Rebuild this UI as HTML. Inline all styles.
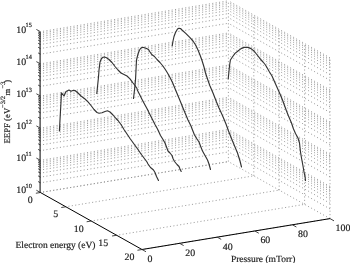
<!DOCTYPE html>
<html><head><meta charset="utf-8"><style>
html,body{margin:0;padding:0;background:#fff;}
svg{display:block;filter:grayscale(1);}
.g{stroke:#959595;stroke-width:0.9;stroke-dasharray:1.1 2.33;}
</style></head><body>
<svg width="350" height="263" viewBox="0 0 350 263">
<rect width="350" height="263" fill="#fff"/>
<g fill="none">
<line class="g" x1="40.4" y1="192.5" x2="228.4" y2="161.6" stroke-dashoffset="0.8"/>
<line class="g" x1="330" y1="218.6" x2="228.4" y2="161.6" stroke-dashoffset="0"/>
<line class="g" x1="40.4" y1="182.82" x2="228.4" y2="151.92" stroke-dashoffset="0.8"/>
<line class="g" x1="330" y1="208.92" x2="228.4" y2="151.92" stroke-dashoffset="0"/>
<line class="g" x1="40.4" y1="177.16" x2="228.4" y2="146.26" stroke-dashoffset="0.8"/>
<line class="g" x1="330" y1="203.26" x2="228.4" y2="146.26" stroke-dashoffset="0"/>
<line class="g" x1="40.4" y1="173.14" x2="228.4" y2="142.24" stroke-dashoffset="0.8"/>
<line class="g" x1="330" y1="199.24" x2="228.4" y2="142.24" stroke-dashoffset="0"/>
<line class="g" x1="40.4" y1="170.02" x2="228.4" y2="139.12" stroke-dashoffset="0.8"/>
<line class="g" x1="330" y1="196.12" x2="228.4" y2="139.12" stroke-dashoffset="0"/>
<line class="g" x1="40.4" y1="167.47" x2="228.4" y2="136.57" stroke-dashoffset="0.8"/>
<line class="g" x1="330" y1="193.57" x2="228.4" y2="136.57" stroke-dashoffset="0"/>
<line class="g" x1="40.4" y1="165.32" x2="228.4" y2="134.42" stroke-dashoffset="0.8"/>
<line class="g" x1="330" y1="191.42" x2="228.4" y2="134.42" stroke-dashoffset="0"/>
<line class="g" x1="40.4" y1="163.46" x2="228.4" y2="132.56" stroke-dashoffset="0.8"/>
<line class="g" x1="330" y1="189.56" x2="228.4" y2="132.56" stroke-dashoffset="0"/>
<line class="g" x1="40.4" y1="161.81" x2="228.4" y2="130.91" stroke-dashoffset="0.8"/>
<line class="g" x1="330" y1="187.91" x2="228.4" y2="130.91" stroke-dashoffset="0"/>
<line class="g" x1="40.4" y1="160.34" x2="228.4" y2="129.44" stroke-dashoffset="0.8"/>
<line class="g" x1="330" y1="186.44" x2="228.4" y2="129.44" stroke-dashoffset="0"/>
<line class="g" x1="40.4" y1="150.66" x2="228.4" y2="119.76" stroke-dashoffset="0.8"/>
<line class="g" x1="330" y1="176.76" x2="228.4" y2="119.76" stroke-dashoffset="0"/>
<line class="g" x1="40.4" y1="145" x2="228.4" y2="114.1" stroke-dashoffset="0.8"/>
<line class="g" x1="330" y1="171.1" x2="228.4" y2="114.1" stroke-dashoffset="0"/>
<line class="g" x1="40.4" y1="140.98" x2="228.4" y2="110.08" stroke-dashoffset="0.8"/>
<line class="g" x1="330" y1="167.08" x2="228.4" y2="110.08" stroke-dashoffset="0"/>
<line class="g" x1="40.4" y1="137.86" x2="228.4" y2="106.96" stroke-dashoffset="0.8"/>
<line class="g" x1="330" y1="163.96" x2="228.4" y2="106.96" stroke-dashoffset="0"/>
<line class="g" x1="40.4" y1="135.31" x2="228.4" y2="104.41" stroke-dashoffset="0.8"/>
<line class="g" x1="330" y1="161.41" x2="228.4" y2="104.41" stroke-dashoffset="0"/>
<line class="g" x1="40.4" y1="133.16" x2="228.4" y2="102.26" stroke-dashoffset="0.8"/>
<line class="g" x1="330" y1="159.26" x2="228.4" y2="102.26" stroke-dashoffset="0"/>
<line class="g" x1="40.4" y1="131.3" x2="228.4" y2="100.4" stroke-dashoffset="0.8"/>
<line class="g" x1="330" y1="157.4" x2="228.4" y2="100.4" stroke-dashoffset="0"/>
<line class="g" x1="40.4" y1="129.65" x2="228.4" y2="98.75" stroke-dashoffset="0.8"/>
<line class="g" x1="330" y1="155.75" x2="228.4" y2="98.75" stroke-dashoffset="0"/>
<line class="g" x1="40.4" y1="128.18" x2="228.4" y2="97.28" stroke-dashoffset="0.8"/>
<line class="g" x1="330" y1="154.28" x2="228.4" y2="97.28" stroke-dashoffset="0"/>
<line class="g" x1="40.4" y1="118.5" x2="228.4" y2="87.6" stroke-dashoffset="0.8"/>
<line class="g" x1="330" y1="144.6" x2="228.4" y2="87.6" stroke-dashoffset="0"/>
<line class="g" x1="40.4" y1="112.84" x2="228.4" y2="81.94" stroke-dashoffset="0.8"/>
<line class="g" x1="330" y1="138.94" x2="228.4" y2="81.94" stroke-dashoffset="0"/>
<line class="g" x1="40.4" y1="108.82" x2="228.4" y2="77.92" stroke-dashoffset="0.8"/>
<line class="g" x1="330" y1="134.92" x2="228.4" y2="77.92" stroke-dashoffset="0"/>
<line class="g" x1="40.4" y1="105.7" x2="228.4" y2="74.8" stroke-dashoffset="0.8"/>
<line class="g" x1="330" y1="131.8" x2="228.4" y2="74.8" stroke-dashoffset="0"/>
<line class="g" x1="40.4" y1="103.15" x2="228.4" y2="72.25" stroke-dashoffset="0.8"/>
<line class="g" x1="330" y1="129.25" x2="228.4" y2="72.25" stroke-dashoffset="0"/>
<line class="g" x1="40.4" y1="101" x2="228.4" y2="70.1" stroke-dashoffset="0.8"/>
<line class="g" x1="330" y1="127.1" x2="228.4" y2="70.1" stroke-dashoffset="0"/>
<line class="g" x1="40.4" y1="99.14" x2="228.4" y2="68.24" stroke-dashoffset="0.8"/>
<line class="g" x1="330" y1="125.24" x2="228.4" y2="68.24" stroke-dashoffset="0"/>
<line class="g" x1="40.4" y1="97.49" x2="228.4" y2="66.59" stroke-dashoffset="0.8"/>
<line class="g" x1="330" y1="123.59" x2="228.4" y2="66.59" stroke-dashoffset="0"/>
<line class="g" x1="40.4" y1="96.02" x2="228.4" y2="65.12" stroke-dashoffset="0.8"/>
<line class="g" x1="330" y1="122.12" x2="228.4" y2="65.12" stroke-dashoffset="0"/>
<line class="g" x1="40.4" y1="86.34" x2="228.4" y2="55.44" stroke-dashoffset="0.8"/>
<line class="g" x1="330" y1="112.44" x2="228.4" y2="55.44" stroke-dashoffset="0"/>
<line class="g" x1="40.4" y1="80.68" x2="228.4" y2="49.78" stroke-dashoffset="0.8"/>
<line class="g" x1="330" y1="106.78" x2="228.4" y2="49.78" stroke-dashoffset="0"/>
<line class="g" x1="40.4" y1="76.66" x2="228.4" y2="45.76" stroke-dashoffset="0.8"/>
<line class="g" x1="330" y1="102.76" x2="228.4" y2="45.76" stroke-dashoffset="0"/>
<line class="g" x1="40.4" y1="73.54" x2="228.4" y2="42.64" stroke-dashoffset="0.8"/>
<line class="g" x1="330" y1="99.64" x2="228.4" y2="42.64" stroke-dashoffset="0"/>
<line class="g" x1="40.4" y1="70.99" x2="228.4" y2="40.09" stroke-dashoffset="0.8"/>
<line class="g" x1="330" y1="97.09" x2="228.4" y2="40.09" stroke-dashoffset="0"/>
<line class="g" x1="40.4" y1="68.84" x2="228.4" y2="37.94" stroke-dashoffset="0.8"/>
<line class="g" x1="330" y1="94.94" x2="228.4" y2="37.94" stroke-dashoffset="0"/>
<line class="g" x1="40.4" y1="66.98" x2="228.4" y2="36.08" stroke-dashoffset="0.8"/>
<line class="g" x1="330" y1="93.08" x2="228.4" y2="36.08" stroke-dashoffset="0"/>
<line class="g" x1="40.4" y1="65.33" x2="228.4" y2="34.43" stroke-dashoffset="0.8"/>
<line class="g" x1="330" y1="91.43" x2="228.4" y2="34.43" stroke-dashoffset="0"/>
<line class="g" x1="40.4" y1="63.86" x2="228.4" y2="32.96" stroke-dashoffset="0.8"/>
<line class="g" x1="330" y1="89.96" x2="228.4" y2="32.96" stroke-dashoffset="0"/>
<line class="g" x1="40.4" y1="54.18" x2="228.4" y2="23.28" stroke-dashoffset="0.8"/>
<line class="g" x1="330" y1="80.28" x2="228.4" y2="23.28" stroke-dashoffset="0"/>
<line class="g" x1="40.4" y1="48.52" x2="228.4" y2="17.62" stroke-dashoffset="0.8"/>
<line class="g" x1="330" y1="74.62" x2="228.4" y2="17.62" stroke-dashoffset="0"/>
<line class="g" x1="40.4" y1="44.5" x2="228.4" y2="13.6" stroke-dashoffset="0.8"/>
<line class="g" x1="330" y1="70.6" x2="228.4" y2="13.6" stroke-dashoffset="0"/>
<line class="g" x1="40.4" y1="41.38" x2="228.4" y2="10.48" stroke-dashoffset="0.8"/>
<line class="g" x1="330" y1="67.48" x2="228.4" y2="10.48" stroke-dashoffset="0"/>
<line class="g" x1="40.4" y1="38.83" x2="228.4" y2="7.93" stroke-dashoffset="0.8"/>
<line class="g" x1="330" y1="64.93" x2="228.4" y2="7.93" stroke-dashoffset="0"/>
<line class="g" x1="40.4" y1="36.68" x2="228.4" y2="5.78" stroke-dashoffset="0.8"/>
<line class="g" x1="330" y1="62.78" x2="228.4" y2="5.78" stroke-dashoffset="0"/>
<line class="g" x1="40.4" y1="34.82" x2="228.4" y2="3.92" stroke-dashoffset="0.8"/>
<line class="g" x1="330" y1="60.92" x2="228.4" y2="3.92" stroke-dashoffset="0"/>
<line class="g" x1="40.4" y1="33.17" x2="228.4" y2="2.27" stroke-dashoffset="0.8"/>
<line class="g" x1="330" y1="59.27" x2="228.4" y2="2.27" stroke-dashoffset="0"/>
<line class="g" x1="40.4" y1="31.7" x2="228.4" y2="0.8" stroke-dashoffset="0.8"/>
<line class="g" x1="330" y1="57.8" x2="228.4" y2="0.8" stroke-dashoffset="0"/>
<line class="g" x1="40.4" y1="192.5" x2="228.4" y2="161.6" stroke-dashoffset="0.8"/>
<line class="g" x1="228.4" y1="161.6" x2="228.4" y2="0.8"/>
<line class="g" x1="65.8" y1="206.75" x2="253.8" y2="175.85" stroke-dashoffset="0.8"/>
<line class="g" x1="253.8" y1="175.85" x2="253.8" y2="15.05"/>
<line class="g" x1="91.2" y1="221" x2="279.2" y2="190.1" stroke-dashoffset="0.8"/>
<line class="g" x1="279.2" y1="190.1" x2="279.2" y2="29.3"/>
<line class="g" x1="116.6" y1="235.25" x2="304.6" y2="204.35" stroke-dashoffset="0.8"/>
<line class="g" x1="304.6" y1="204.35" x2="304.6" y2="43.55"/>
<line class="g" x1="142" y1="249.5" x2="330" y2="218.6" stroke-dashoffset="0.8"/>
<line class="g" x1="330" y1="218.6" x2="330" y2="57.8"/>
</g>
<g stroke="#000" stroke-width="1" fill="none" stroke-linecap="butt">
<line x1="40.1" y1="193" x2="40.1" y2="31.7" stroke="#2a2a2a" stroke-width="1.2"/>
<line x1="40.4" y1="192.5" x2="142" y2="249.5"/>
<line x1="142" y1="249.5" x2="330" y2="218.6"/>
</g>
<g stroke="#222" stroke-width="0.85" fill="none" stroke-linecap="butt">
<line x1="40.4" y1="192.5" x2="36.39" y2="190.25"/>
<line x1="40.4" y1="182.82" x2="38.13" y2="181.55"/>
<line x1="40.4" y1="177.16" x2="38.13" y2="175.88"/>
<line x1="40.4" y1="173.14" x2="38.13" y2="171.87"/>
<line x1="40.4" y1="170.02" x2="38.13" y2="168.75"/>
<line x1="40.4" y1="167.47" x2="38.13" y2="166.2"/>
<line x1="40.4" y1="165.32" x2="38.13" y2="164.05"/>
<line x1="40.4" y1="163.46" x2="38.13" y2="162.18"/>
<line x1="40.4" y1="161.81" x2="38.13" y2="160.54"/>
<line x1="40.4" y1="160.34" x2="36.39" y2="158.09"/>
<line x1="40.4" y1="150.66" x2="38.13" y2="149.39"/>
<line x1="40.4" y1="145" x2="38.13" y2="143.72"/>
<line x1="40.4" y1="140.98" x2="38.13" y2="139.71"/>
<line x1="40.4" y1="137.86" x2="38.13" y2="136.59"/>
<line x1="40.4" y1="135.31" x2="38.13" y2="134.04"/>
<line x1="40.4" y1="133.16" x2="38.13" y2="131.89"/>
<line x1="40.4" y1="131.3" x2="38.13" y2="130.02"/>
<line x1="40.4" y1="129.65" x2="38.13" y2="128.38"/>
<line x1="40.4" y1="128.18" x2="36.39" y2="125.93"/>
<line x1="40.4" y1="118.5" x2="38.13" y2="117.23"/>
<line x1="40.4" y1="112.84" x2="38.13" y2="111.56"/>
<line x1="40.4" y1="108.82" x2="38.13" y2="107.55"/>
<line x1="40.4" y1="105.7" x2="38.13" y2="104.43"/>
<line x1="40.4" y1="103.15" x2="38.13" y2="101.88"/>
<line x1="40.4" y1="101" x2="38.13" y2="99.73"/>
<line x1="40.4" y1="99.14" x2="38.13" y2="97.86"/>
<line x1="40.4" y1="97.49" x2="38.13" y2="96.22"/>
<line x1="40.4" y1="96.02" x2="36.39" y2="93.77"/>
<line x1="40.4" y1="86.34" x2="38.13" y2="85.07"/>
<line x1="40.4" y1="80.68" x2="38.13" y2="79.4"/>
<line x1="40.4" y1="76.66" x2="38.13" y2="75.39"/>
<line x1="40.4" y1="73.54" x2="38.13" y2="72.27"/>
<line x1="40.4" y1="70.99" x2="38.13" y2="69.72"/>
<line x1="40.4" y1="68.84" x2="38.13" y2="67.57"/>
<line x1="40.4" y1="66.98" x2="38.13" y2="65.7"/>
<line x1="40.4" y1="65.33" x2="38.13" y2="64.06"/>
<line x1="40.4" y1="63.86" x2="36.39" y2="61.61"/>
<line x1="40.4" y1="54.18" x2="38.13" y2="52.91"/>
<line x1="40.4" y1="48.52" x2="38.13" y2="47.24"/>
<line x1="40.4" y1="44.5" x2="38.13" y2="43.23"/>
<line x1="40.4" y1="41.38" x2="38.13" y2="40.11"/>
<line x1="40.4" y1="38.83" x2="38.13" y2="37.56"/>
<line x1="40.4" y1="36.68" x2="38.13" y2="35.41"/>
<line x1="40.4" y1="34.82" x2="38.13" y2="33.54"/>
<line x1="40.4" y1="33.17" x2="38.13" y2="31.9"/>
<line x1="40.4" y1="31.7" x2="36.39" y2="29.45"/>
<line x1="40.4" y1="192.5" x2="35.86" y2="193.25"/>
<line x1="65.8" y1="206.75" x2="61.26" y2="207.5"/>
<line x1="91.2" y1="221" x2="86.66" y2="221.75"/>
<line x1="116.6" y1="235.25" x2="112.06" y2="236"/>
<line x1="142" y1="249.5" x2="137.46" y2="250.25"/>
<line x1="142" y1="249.5" x2="146.01" y2="251.75"/>
<line x1="179.6" y1="243.32" x2="183.61" y2="245.57"/>
<line x1="217.2" y1="237.14" x2="221.21" y2="239.39"/>
<line x1="254.8" y1="230.96" x2="258.81" y2="233.21"/>
<line x1="292.4" y1="224.78" x2="296.41" y2="227.03"/>
<line x1="330" y1="218.6" x2="334.01" y2="220.85"/>
</g>
<g stroke="#333" stroke-width="1.15" fill="none" stroke-linejoin="round" stroke-linecap="round">
<polyline points="59.4,131 61.5,92.8 64,96 66,91.5 69,90 71,91.2 73.5,90.2 75,90.5 78,93 81,96 85,99 88,101.8 91,105.5 94,109.5 97,112.5 99,113.2 102,112.8 105,111.5 107.5,110.8 110,112 113,115 116,118.5 118,120.5 121,124.5 124,129.5 127,134 130,138.5 134,144 138,149.5 141,154 144,158 147,162 148,164 150.5,167.5 153.5,170 155,172.5 156.5,176.5 158.5,180.5"/>
<polyline points="96.8,93.5 98.5,77 99,70 100,62 101.5,58.5 103,57.2 104.5,57 106.5,57.8 109,59.5 112,62.5 115,66.5 118,70 121,73 124,74.5 127,76 130,78.8 133,83 135,85.5 137,88.5 137.3,90.1 139.6,94.6 142.2,99.7 145,105 147.2,109 149.4,113.4 152.2,119 155,124.5 157.5,129 160.5,135.5 163,139.5 165,143 166.5,147 168,151 170,153 172,155.5 173,158.5 174.5,161.5 177,164.5 179,166.5 180,169 181.2,171.5"/>
<polyline points="133.5,98.5 134.5,90 135.5,80 136.5,60 138,54 139.5,50 141,48 142.5,47.3 144.5,47.8 146.5,48.5 148.5,49.5 150,52 152,54.8 154.5,56.5 157,59.5 160,62.5 162.5,65.5 165,69 167.5,73 170,77.5 172.5,82.5 176,91 178.5,97 181,103 183,108 185.5,114 188,120 191,126 192.5,130 194.5,135 197,139 199,142 200.5,146 202.5,151 205,155.5 207.5,160 209,164 210.5,169.5"/>
<polyline points="172.2,46 173,41 174,36.5 175.5,32.5 177.5,29 179,28.2 180.5,28.5 182,30 186,33.6 190,37.6 193,41 195.6,45 198,50 200,55 202,60.5 204,67 205.5,73 207.5,79 210,86 213,93 216.5,102 219,108 222,114.5 223.5,118 226,124 228.5,131 232.5,141 235,147 237.5,153 240,161 241.5,167"/>
<polyline points="228.2,79 229.5,66 230.4,60 232.4,57 235,53.4 238,51 241,48.6 244,47.4 248,47.4 251,48.6 254,51 256,53.5 258,56 260,58.7 263,62 265.5,65 267.5,68.5 269.5,72 272,76 274,80.5 276,85 278,89.5 280,94 282.5,100 284.5,105.5 286.5,111 288.5,116 291.5,123 293.5,129 295.5,133.5 298,138 299.5,143 300.5,152 301.5,158 303,166 304,172 305,176.5 305.5,180.5"/>
</g>
<g font-family="Liberation Serif, serif" fill="#1c1c1c" text-rendering="geometricPrecision" stroke="#1c1c1c" stroke-width="0.18">
<text x="26.1" y="193.4" font-size="9.9" text-anchor="end">10</text>
<text x="25.5" y="188" font-size="6.3">10</text>
<text x="26.1" y="161.24" font-size="9.9" text-anchor="end">10</text>
<text x="25.5" y="155.84" font-size="6.3">11</text>
<text x="26.1" y="129.08" font-size="9.9" text-anchor="end">10</text>
<text x="25.5" y="123.68" font-size="6.3">12</text>
<text x="26.1" y="96.92" font-size="9.9" text-anchor="end">10</text>
<text x="25.5" y="91.52" font-size="6.3">13</text>
<text x="26.1" y="64.76" font-size="9.9" text-anchor="end">10</text>
<text x="25.5" y="59.36" font-size="6.3">14</text>
<text x="26.1" y="32.6" font-size="9.9" text-anchor="end">10</text>
<text x="25.5" y="27.2" font-size="6.3">15</text>
<text x="32.8" y="203.1" font-size="9.9" text-anchor="end">0</text>
<text x="58.2" y="217.35" font-size="9.9" text-anchor="end">5</text>
<text x="83.6" y="231.6" font-size="9.9" text-anchor="end">10</text>
<text x="108.2" y="245.85" font-size="9.9" text-anchor="end">15</text>
<text x="134.4" y="260.1" font-size="9.9" text-anchor="end">20</text>
<text x="147.6" y="261.9" font-size="9.9">0</text>
<text x="185.2" y="255.72" font-size="9.9">20</text>
<text x="222.8" y="249.54" font-size="9.9">40</text>
<text x="260.4" y="243.36" font-size="9.9">60</text>
<text x="298" y="237.18" font-size="9.9">80</text>
<text x="335.6" y="231" font-size="9.9">100</text>
<text x="15.5" y="247.6" font-size="9.5">Electron energy (eV)</text>
<text x="230.9" y="261.7" font-size="9.5">Pressure (mTorr)</text>
<text transform="translate(10,143.5) rotate(-90)" font-size="8.75">EEPF (eV</text>
<text transform="translate(5,108) rotate(-90)" font-size="6.5">−3/2</text>
<text transform="translate(10,95.6) rotate(-90)" font-size="8.6">m</text>
<text transform="translate(5,88.5) rotate(-90)" font-size="6.5">−3</text>
<text transform="translate(10,82.7) rotate(-90)" font-size="8.75">)</text>
</g>
</svg>
</body></html>
